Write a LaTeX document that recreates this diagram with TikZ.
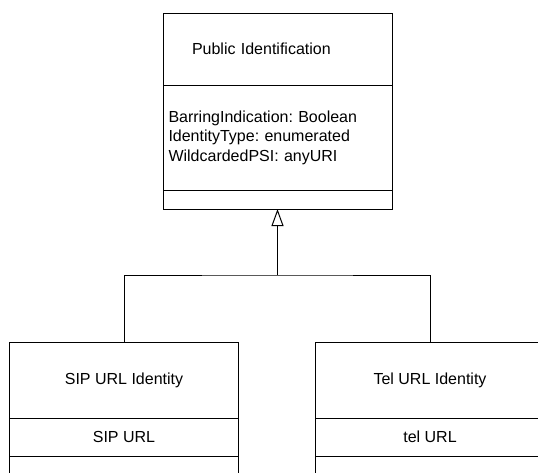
\documentclass[tikz,border=0pt]{standalone}
\usepackage{fontspec}
\setmainfont{Liberation Sans}
\frenchspacing
\usetikzlibrary{positioning,arrows.meta}
\begin{document}
\begin{tikzpicture}[x=1pt,y=-1pt,
  compart/.style={draw,line width=1pt,minimum width=229pt,inner sep=0pt,outer sep=0pt,anchor=north,font=\fontsize{16}{19.5}\selectfont},
  inherit/.style={line width=1pt,-{Triangle[open,length=17pt,width=12pt,line width=1pt]}}]
\useasboundingbox (0,0) rectangle (538,472);
\clip (0,0) rectangle (538,472);
\node[compart,minimum height=72pt,text width=229pt,align=left] (pi-name) at (277.5,13) {\hspace*{29pt}Public Identification};
\node[compart,minimum height=105pt,text width=218pt,inner xsep=5.5pt,align=left,below=0pt of pi-name] (pi-attr) {BarringIndication: Boolean\\IdentityType: enumerated\\WildcardedPSI: anyURI};
\node[compart,minimum height=19pt,below=0pt of pi-attr] (pi-ops) {};
\node[compart,minimum height=76pt] (sip-name) at (124,342) {SIP URL Identity};
\node[compart,minimum height=38pt,below=0pt of sip-name] (sip-attr) {SIP URL};
\node[compart,minimum height=30pt,below=0pt of sip-attr] (sip-ops) {};
\node[compart,minimum height=76pt] (tel-name) at (430,342) {Tel URL Identity};
\node[compart,minimum height=38pt,below=0pt of tel-name] (tel-attr) {tel URL};
\node[compart,minimum height=30pt,below=0pt of tel-attr] (tel-ops) {};
\coordinate (fork) at (277.5,275);
\draw[line width=1pt] (sip-name.north) |- (fork) -| (tel-name.north);
\draw[inherit] (fork) -- (pi-ops.south);
\end{tikzpicture}
\end{document}
